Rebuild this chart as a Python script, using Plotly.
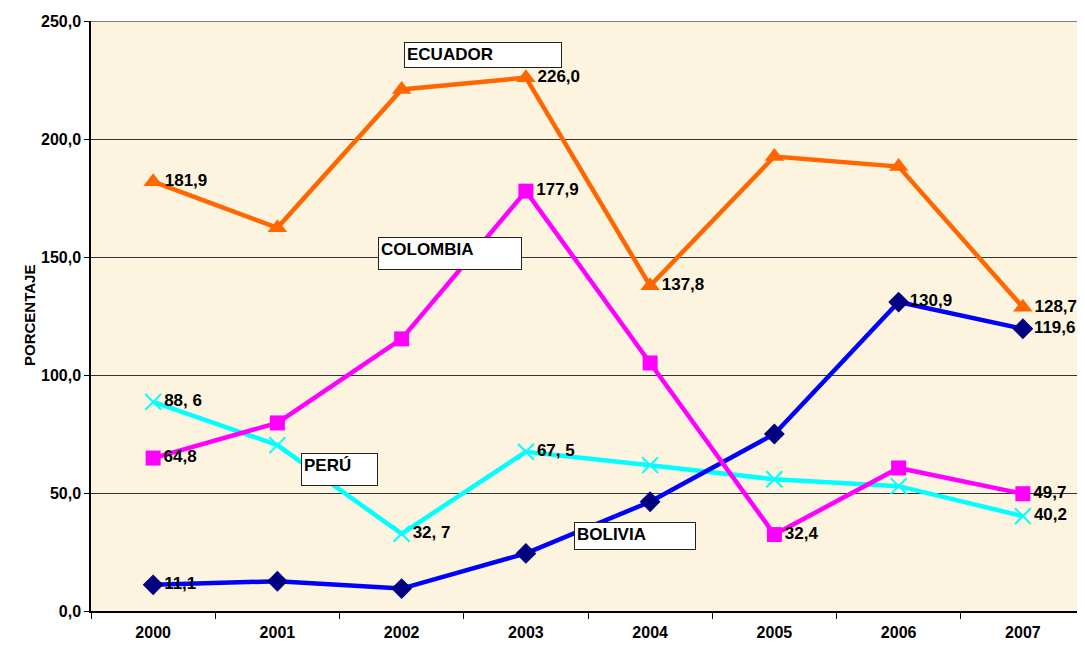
import plotly.graph_objects as go

years = ["2000", "2001", "2002", "2003", "2004", "2005", "2006", "2007"]
ecuador = [181.9, 162.4, 221.0, 226.0, 137.8, 192.6, 188.3, 128.7]
colombia = [64.8, 79.7, 115.3, 177.9, 105.1, 32.4, 60.6, 49.7]
peru = [88.6, 70.3, 32.7, 67.5, 61.8, 55.8, 52.9, 40.2]
bolivia = [11.1, 12.6, 9.5, 24.4, 46.3, 75.0, 130.9, 119.6]

ecuador_lbl = ["181,9", "", "", "226,0", "137,8", "", "", "128,7"]
colombia_lbl = ["64,8", "", "", "177,9", "", "32,4", "", "49,7"]
peru_lbl = ["88, 6", "", "32, 7", "67, 5", "", "", "", "40,2"]
bolivia_lbl = ["11,1", "", "", "", "", "", "130,9", "119,6"]

y_ticks = [0, 50, 100, 150, 200, 250]
y_tick_text = ["0,0", "50,0", "100,0", "150,0", "200,0", "250,0"]

FONT = "Liberation Sans, Arial, sans-serif"
lblfont = dict(family=FONT, size=17, color="black", weight="bold")

fig = go.Figure()

fig.add_trace(go.Scatter(
    x=years, y=peru, mode="lines+markers+text", text=peru_lbl,
    textposition="middle right", textfont=lblfont,
    line=dict(color="#00FFFF", width=4.5),
    marker=dict(symbol="x-thin", size=16, color="#00FFFF",
                line=dict(color="#00FFFF", width=2)),
    cliponaxis=False, name="PERÚ"))
fig.add_trace(go.Scatter(
    x=years, y=bolivia, mode="lines+markers+text", text=bolivia_lbl,
    textposition="middle right", textfont=lblfont,
    line=dict(color="#0000FF", width=4.5),
    marker=dict(symbol="diamond", size=16, color="#000080"),
    cliponaxis=False, name="BOLIVIA"))
fig.add_trace(go.Scatter(
    x=years, y=colombia, mode="lines+markers+text", text=colombia_lbl,
    textposition="middle right", textfont=lblfont,
    line=dict(color="#FF00FF", width=4.5),
    marker=dict(symbol="square", size=15, color="#FF00FF"),
    cliponaxis=False, name="COLOMBIA"))
fig.add_trace(go.Scatter(
    x=years, y=ecuador, mode="lines+markers+text", text=ecuador_lbl,
    textposition="middle right", textfont=lblfont,
    line=dict(color="#FF6600", width=4.5),
    marker=dict(symbol="triangle-up", size=17, color="#FF6600"),
    cliponaxis=False, name="ECUADOR"))

# page body has an 8px default margin; compensate so the chart lands where the reference has it
OFF = 8
W, H = 1085 - OFF, 646 - OFF
L, T, R, B = 91 - OFF, 21 - OFF, 0, 35
PW, PH = W - L - R, H - T - B

def px(xp):
    return (xp - OFF - L) / PW

def py(yp):
    return (H - B - (yp - OFF)) / PH

def box(text, x0, y0, x1, y1):
    fig.add_annotation(
        xref="paper", yref="paper", x=px(x0), y=py(y0),
        xanchor="left", yanchor="top", text=text,
        showarrow=False, align="left", valign="top",
        width=x1 - x0 - 6, height=y1 - y0 - 6, borderpad=2,
        bgcolor="white", bordercolor="#222", borderwidth=1,
        font=dict(family=FONT, size=17, color="black", weight="bold"))

box("ECUADOR", 404, 42, 562, 68)
box("COLOMBIA", 378, 237, 522, 270)
box("PERÚ", 301, 453, 378, 486)
box("BOLIVIA", 574, 522, 696, 550)

fig.add_annotation(
    xref="paper", yref="paper", x=px(18.5), y=py(316), text="PORCENTAJE",
    textangle=-90, showarrow=False,
    font=dict(family=FONT, size=15, color="black", weight="bold"))

fig.add_shape(type="line", xref="paper", yref="y", x0=0, x1=1, y0=250, y1=250,
              line=dict(color="#808080", width=2))

fig.update_layout(
    width=W, height=H, margin=dict(l=L, r=R, t=T, b=B, autoexpand=False),
    paper_bgcolor="white", plot_bgcolor="#FDF4DF",
    showlegend=False,
    font=dict(family=FONT, color="black"),
    xaxis=dict(type="category", range=[-0.5, 7.5], tickson="boundaries",
               ticks="outside", ticklen=6, tickcolor="black", tickwidth=1,
               showline=True, linecolor="black", linewidth=1.5,
               showgrid=False, zeroline=False, automargin=False,
               tickfont=dict(family=FONT, size=16, color="black", weight="bold"),
               ticklabelstandoff=6),
    yaxis=dict(range=[0, 250], tickvals=y_ticks, ticktext=y_tick_text,
               ticks="outside", ticklen=5, tickcolor="black",
               showline=True, linecolor="black", linewidth=1.5,
               showgrid=True, gridcolor="#333", gridwidth=1, zeroline=False,
               automargin=False,
               tickfont=dict(family=FONT, size=16, color="black", weight="bold")),
)

fig.write_html("out.html")
